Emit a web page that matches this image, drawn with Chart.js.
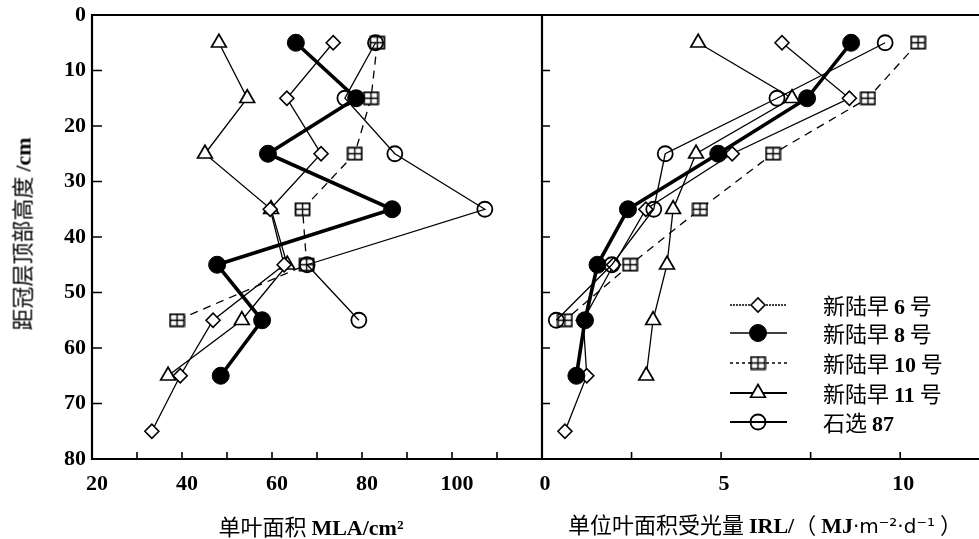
<!DOCTYPE html>
<html><head><meta charset="utf-8">
<script src="https://cdn.jsdelivr.net/npm/chart.js@4.4.1/dist/chart.umd.min.js"></script>
<style>
html,body{margin:0;padding:0;background:#fff;}
#wrap{position:relative;width:979px;height:539px;overflow:hidden;background:#fff;}
canvas{position:absolute;top:0;}
.t{position:absolute;white-space:nowrap;color:#000;font-family:'Noto Sans CJK SC',sans-serif;font-size:22px;line-height:22px;}
.t b{font-family:'Liberation Serif',serif;font-weight:bold;font-size:22px;}
.t .s{font-family:'DejaVu Sans',sans-serif;font-size:20px;}
</style></head><body>
<div id="wrap">
<canvas id="c1" width="545" height="539" style="left:0"></canvas>
<canvas id="c2" width="457" height="539" style="left:522px"></canvas>
<div class="t" style="left:22px;top:234px;transform:translate(-50%,-50%) rotate(-90deg);">距冠层顶部高度 <b>/cm</b></div>
<div class="t" style="left:311px;top:526px;transform:translate(-50%,-50%);">单叶面积 <b>MLA/cm²</b></div>
<div class="t" style="left:765px;top:524px;transform:translate(-50%,-50%);">单位叶面积受光量 <b>IRL/</b>（ <b>MJ</b><span class="s">·m⁻²·d⁻¹</span> ）</div>
<div id="leg"></div>
</div>
<script>
// ---- data ----
const depths = [5, 15, 25, 35, 45, 55, 65, 75];
const seriesNames = ['新陆早 6 号', '新陆早 8 号', '新陆早 10 号', '新陆早 11 号', '石选 87'];
const mla6   = [73.6, 63.3, 70.9, 59.6, 62.7, 46.9, 39.6, 33.3];
const mla8   = [65.3, 78.7, 59.1, 86.7, 47.8, 57.8, 48.6];
const mla10  = [83.4, 82.0, 78.4, 66.8, 67.7, 38.9];
const mla11  = [48.2, 54.5, 45.1, 59.8, 63.4, 53.3, 36.9];
const mlaS87 = [83.0, 76.2, 87.3, 107.3, 67.8, 79.3];
const irl6   = [6.70, 8.58, 5.31, 2.90, 2.00, 1.15, 1.25, 0.64];
const irl8   = [8.63, 7.40, 4.92, 2.40, 1.55, 1.20, 0.96];
const irl10  = [10.5, 9.10, 6.45, 4.41, 2.46, 0.64];
const irl11  = [4.36, 6.98, 4.30, 3.66, 3.49, 3.10, 2.91];
const irlS87 = [9.58, 6.56, 3.44, 3.12, 1.95, 0.40];
const depthTicks = [10, 20, 30, 40, 50, 60, 70];
const mlaTicks = [30, 40, 50, 60, 70, 80, 90, 100, 110];
const mlaLabels = [20, 40, 60, 80, 100];
const irlTicks = [2.5, 5, 7.5, 10];
const irlLabels = [0, 5, 10];

function makeSquare(){
  const c = document.createElement('canvas'); c.width = 17; c.height = 15;
  const x = c.getContext('2d');
  x.fillStyle = '#fff'; x.fillRect(1, 1, 15, 13);
  x.strokeStyle = '#000'; x.lineWidth = 1.8; x.strokeRect(1.5, 1.5, 14, 12);
  x.lineWidth = 1.4; x.beginPath();
  x.moveTo(8.5, 1.5); x.lineTo(8.5, 13.5); x.moveTo(1.5, 7.5); x.lineTo(15.5, 7.5); x.stroke();
  return c;
}
const sq = makeSquare();

const styles = [
  {pointStyle:'rectRot', radius:7, bg:'#fff', lw:1.3, pbw:1.6, dash:[], order:3, legDash:[2,1], legLw:1.6},
  {pointStyle:'circle', radius:8.5, bg:'#000', lw:3.6, pbw:1, dash:[], order:0, legDash:[], legLw:1.3},
  {pointStyle:sq, radius:8, bg:'#fff', lw:1.3, pbw:1.5, dash:[8,6], order:2, legDash:[3,3], legLw:1.3},
  {pointStyle:'triangle', radius:8.5, bg:'#fff', lw:1.3, pbw:1.7, dash:[], order:4, legDash:[], legLw:2},
  {pointStyle:'circle', radius:7.5, bg:'rgba(255,255,255,0)', lw:1.3, pbw:1.8, dash:[], order:1, legDash:[], legLw:2}
];

function makeSets(arrs){
  return arrs.map((arr, i) => ({
    label: seriesNames[i],
    data: arr.map((v, k) => ({x: v, y: depths[k]})),
    borderColor: '#000', borderWidth: styles[i].lw, borderDash: styles[i].dash,
    pointStyle: styles[i].pointStyle, pointRadius: styles[i].radius,
    pointBackgroundColor: styles[i].bg, pointBorderColor: '#000', pointBorderWidth: styles[i].pbw,
    pointHoverRadius: styles[i].radius, fill: false, tension: 0, order: styles[i].order, showLine: true, clip: false
  }));
}

const framePlugin = {
  id: 'frame',
  afterDraw(chart, args, o){
    const {ctx, chartArea: a} = chart;
    const xs = chart.scales.x, ys = chart.scales.y;
    ctx.save();
    ctx.strokeStyle = '#000'; ctx.lineCap = 'square';
    ctx.lineWidth = 2.2;
    ctx.beginPath();
    ctx.moveTo(a.left, a.top); ctx.lineTo(a.right, a.top);
    ctx.moveTo(a.left, a.bottom); ctx.lineTo(a.right, a.bottom);
    if (o.leftLine) { ctx.moveTo(a.left, a.top); ctx.lineTo(a.left, a.bottom); }
    if (o.rightLine) { ctx.moveTo(a.right, a.top); ctx.lineTo(a.right, a.bottom); }
    ctx.stroke();
    ctx.lineWidth = 1.6; ctx.lineCap = 'butt';
    ctx.beginPath();
    o.yTicks.forEach(v => { const py = ys.getPixelForValue(v); ctx.moveTo(a.left, py); ctx.lineTo(a.left + o.yLen, py); });
    o.xTicks.forEach(v => { const px = xs.getPixelForValue(v); ctx.moveTo(px, a.bottom); ctx.lineTo(px, a.bottom - 7); });
    ctx.stroke();
    if (o.legend) {
      const rows = [305, 333, 363, 393, 422];
      const lx = a.left;
      rows.forEach((ry, i) => {
        const st = styles[i];
        ctx.setLineDash(st.legDash); ctx.lineWidth = st.legLw;
        ctx.beginPath(); ctx.moveTo(lx + 188, ry); ctx.lineTo(lx + 245, ry); ctx.stroke();
        ctx.setLineDash([]);
        ctx.fillStyle = st.bg; ctx.strokeStyle = '#000'; ctx.lineWidth = st.pbw;
        if (Chart.helpers && Chart.helpers.drawPoint) {
          Chart.helpers.drawPoint(ctx, {pointStyle: st.pointStyle, radius: st.radius, rotation: 0, borderWidth: st.pbw}, lx + 216, ry);
        }
      });
    }
    ctx.restore();
  }
};

const tickFont = {family: "'Liberation Serif', serif", weight: 'bold', size: 22};

function makeChart(id, sets, xmin, xmax, labels, labelOffset, yWidth, frameOpts){
  return new Chart(document.getElementById(id), {
    type: 'line',
    data: {datasets: sets},
    options: {
      responsive: false, animation: false, devicePixelRatio: 1,
      layout: {autoPadding: false, padding: {top: 15, right: frameOpts.padRight, bottom: 0, left: 0}},
      plugins: {legend: {display: false}, tooltip: {enabled: false}, frame: frameOpts},
      scales: {
        x: {type: 'linear', min: xmin, max: xmax,
            grid: {display: false, drawTicks: false}, border: {display: false},
            afterFit(s){ s.height = 80; s.paddingLeft = 0; s.paddingRight = 0; },
            afterBuildTicks(s){ s.ticks = labels.map(v => ({value: v})); },
            ticks: {font: tickFont, color: '#000', padding: 12, labelOffset: labelOffset, maxRotation: 0, autoSkip: false,
                    callback: v => String(v)}},
        y: {type: 'linear', min: 0, max: 80, reverse: true,
            grid: {display: false, drawTicks: false}, border: {display: false},
            afterFit(s){ s.width = yWidth; s.paddingTop = 0; s.paddingBottom = 0; },
            ticks: {display: frameOpts.yLabels, stepSize: 10, font: tickFont, color: '#000', padding: 6}}
      }
    },
    plugins: [framePlugin]
  });
}

makeChart('c1', makeSets([mla6, mla8, mla10, mla11, mlaS87]), 20, 120, mlaLabels, 5, 92,
  {leftLine: true, rightLine: true, yTicks: depthTicks, xTicks: mlaTicks, yLen: 10, legend: false, padRight: 3, yLabels: true});
makeChart('c2', makeSets([irl6, irl8, irl10, irl11, irlS87]), 0, 12.2, irlLabels, 3, 20,
  {leftLine: false, rightLine: false, yTicks: depthTicks, xTicks: irlTicks, yLen: 8, legend: true, padRight: 0, yLabels: false});

// legend labels (HTML text)
const legRows = [305, 333, 363, 393, 422];
const leg = document.getElementById('leg');
seriesNames.forEach((n, i) => {
  const d = document.createElement('div');
  d.className = 't';
  d.style.left = '823px'; d.style.top = legRows[i] + 'px'; d.style.transform = 'translateY(-50%)';
  d.innerHTML = n.replace(/(\d+)/, '<b>$1</b>');
  leg.appendChild(d);
});
</script>
</body></html>
